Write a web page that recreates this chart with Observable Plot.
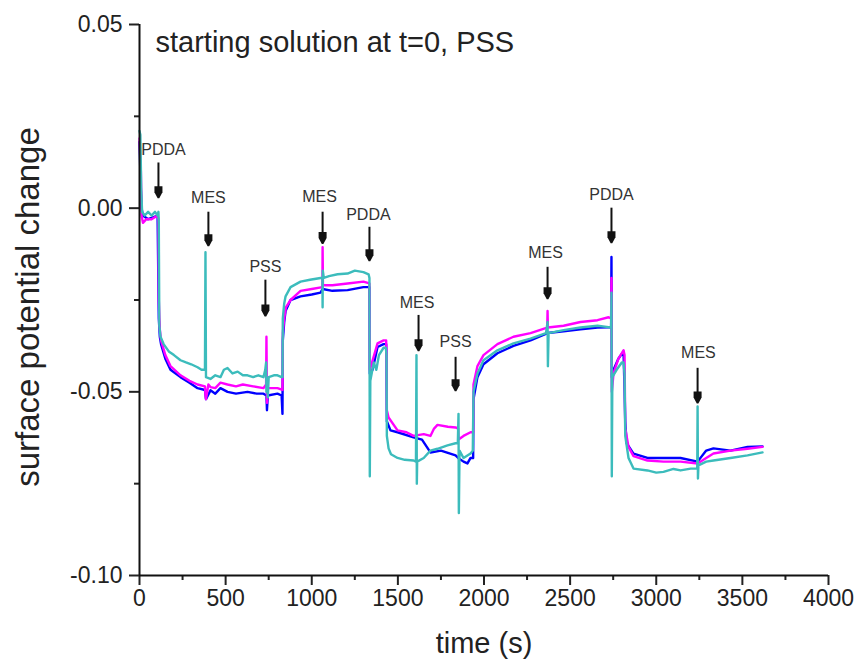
<!DOCTYPE html>
<html>
<head>
<meta charset="utf-8">
<script src="https://cdn.jsdelivr.net/npm/d3@7"></script>
<script src="https://cdn.jsdelivr.net/npm/@observablehq/plot@0.6"></script>
<style>
  body { margin: 0; background: white; }
</style>
</head>
<body>
<div id="chart"></div>
<script>
// ---- data: [time (s), surface potential change] ----
const blue = [
  [0, 0.018], [8, 0.005], [12, 0.000], [20, -0.002], [50, -0.003], [105, -0.002],
  [112, -0.030], [118, -0.035], [125, -0.037], [150, -0.041], [180, -0.044], [238, -0.046],
  [290, -0.0475], [337, -0.049], [380, -0.0495], [386, -0.052], [412, -0.0496], [440, -0.0505],
  [470, -0.049], [511, -0.050], [560, -0.0505], [627, -0.050], [680, -0.0505], [720, -0.0505],
  [737, -0.051], [740, -0.055], [745, -0.051], [801, -0.0505], [825, -0.051], [830, -0.056],
  [832, -0.036], [840, -0.031], [848, -0.028], [877, -0.025], [935, -0.024], [1000, -0.0235],
  [1051, -0.023], [1063, -0.022], [1120, -0.0225], [1208, -0.0223], [1300, -0.0215], [1335, -0.0215],
  [1337, -0.045], [1353, -0.044], [1382, -0.0378], [1417, -0.037], [1432, -0.037], [1434, -0.040],
  [1436, -0.058], [1457, -0.0605], [1498, -0.061], [1591, -0.0624], [1640, -0.063], [1689, -0.0665],
  [1750, -0.066], [1835, -0.0673], [1850, -0.068], [1881, -0.069], [1904, -0.0695], [1922, -0.068],
  [1937, -0.068], [1939, -0.052], [1962, -0.046], [1997, -0.0425], [2078, -0.0395], [2171, -0.0375],
  [2270, -0.036], [2369, -0.034], [2462, -0.0335], [2560, -0.033], [2659, -0.0325], [2723, -0.0324],
  [2738, -0.0324], [2740, -0.0133], [2742, -0.046], [2752, -0.044], [2780, -0.041], [2810, -0.039],
  [2816, -0.0496], [2820, -0.058], [2828, -0.064], [2868, -0.0668], [2949, -0.068], [3042, -0.068],
  [3141, -0.068], [3240, -0.069], [3290, -0.066], [3332, -0.0654], [3431, -0.066], [3530, -0.065],
  [3617, -0.0649]
];

const magenta = [
  [0, 0.019], [8, 0.010], [12, -0.002], [20, -0.004], [40, -0.003], [70, -0.003], [105, -0.002],
  [110, -0.003], [112, -0.025], [118, -0.033], [125, -0.036], [150, -0.040], [180, -0.043],
  [238, -0.0455], [290, -0.047], [337, -0.048], [380, -0.0485], [383, -0.051], [386, -0.052],
  [400, -0.048], [412, -0.0487], [440, -0.049], [470, -0.0475], [511, -0.048], [560, -0.0485],
  [600, -0.048], [660, -0.0485], [720, -0.049], [735, -0.048], [737, -0.035], [740, -0.053],
  [745, -0.049], [801, -0.049], [830, -0.0495], [832, -0.034], [840, -0.030], [850, -0.027],
  [877, -0.025], [935, -0.0225], [1000, -0.022], [1062, -0.0215], [1063, -0.0106], [1065, -0.021],
  [1120, -0.021], [1208, -0.0205], [1300, -0.020], [1335, -0.0205], [1337, -0.044], [1350, -0.042],
  [1382, -0.0368], [1417, -0.036], [1432, -0.036], [1434, -0.040], [1436, -0.055], [1446, -0.057],
  [1498, -0.0605], [1550, -0.061], [1591, -0.062], [1650, -0.0615], [1689, -0.062], [1710, -0.060],
  [1730, -0.059], [1790, -0.0595], [1835, -0.0597], [1850, -0.060], [1852, -0.063], [1881, -0.062],
  [1922, -0.061], [1937, -0.061], [1939, -0.048], [1962, -0.043], [1997, -0.040], [2078, -0.037],
  [2171, -0.035], [2270, -0.034], [2367, -0.0325], [2369, -0.028], [2371, -0.0325], [2462, -0.032],
  [2560, -0.031], [2659, -0.0305], [2723, -0.0297], [2738, -0.030], [2740, -0.019], [2742, -0.050],
  [2752, -0.045], [2780, -0.041], [2810, -0.0387], [2816, -0.040], [2820, -0.060], [2839, -0.065],
  [2868, -0.0675], [2949, -0.0687], [3042, -0.069], [3141, -0.069], [3240, -0.0695], [3290, -0.068],
  [3332, -0.0668], [3431, -0.066], [3530, -0.0655], [3617, -0.065]
];

const cyan = [
  [0, 0.021], [5, 0.020], [10, 0.005], [15, -0.001], [30, -0.002], [50, -0.001], [70, -0.002],
  [90, -0.001], [105, -0.002], [110, -0.001], [112, -0.004], [115, -0.032], [122, -0.035],
  [140, -0.037], [170, -0.039], [200, -0.040], [238, -0.0414], [270, -0.042], [300, -0.0425],
  [337, -0.0433], [360, -0.044], [380, -0.044], [383, -0.012], [386, -0.046], [412, -0.0465],
  [440, -0.0455], [470, -0.046], [490, -0.044], [511, -0.0435], [540, -0.045], [570, -0.0445],
  [600, -0.0455], [627, -0.0455], [660, -0.046], [690, -0.0455], [720, -0.046], [730, -0.044],
  [735, -0.042], [737, -0.050], [740, -0.047], [745, -0.0515], [750, -0.046], [780, -0.0455],
  [801, -0.0455], [825, -0.046], [830, -0.046], [832, -0.030], [840, -0.026], [848, -0.024],
  [877, -0.0215], [935, -0.020], [990, -0.0195], [1051, -0.019], [1062, -0.019], [1063, -0.027],
  [1064, -0.017], [1070, -0.019], [1100, -0.0185], [1150, -0.018], [1208, -0.0178], [1250, -0.017],
  [1300, -0.0174], [1330, -0.018], [1335, -0.019], [1337, -0.073], [1340, -0.047], [1360, -0.042],
  [1375, -0.044], [1390, -0.040], [1417, -0.038], [1430, -0.038], [1434, -0.040], [1436, -0.062],
  [1446, -0.0654], [1460, -0.067], [1498, -0.068], [1540, -0.0685], [1591, -0.0687], [1605, -0.069],
  [1608, -0.040], [1610, -0.075], [1612, -0.069], [1650, -0.068], [1689, -0.066], [1730, -0.0655],
  [1788, -0.0646], [1835, -0.064], [1848, -0.064], [1852, -0.056], [1854, -0.083], [1858, -0.066],
  [1881, -0.068], [1922, -0.0668], [1935, -0.066], [1939, -0.050], [1962, -0.045], [1997, -0.0414],
  [2078, -0.0387], [2171, -0.0368], [2270, -0.0355], [2360, -0.034], [2369, -0.031], [2371, -0.043],
  [2375, -0.034], [2462, -0.0332], [2560, -0.0325], [2659, -0.032], [2723, -0.0324], [2738, -0.0324],
  [2740, -0.023], [2742, -0.073], [2745, -0.046], [2770, -0.044], [2800, -0.042], [2810, -0.042],
  [2816, -0.045], [2820, -0.062], [2839, -0.068], [2868, -0.0709], [2949, -0.0714], [3000, -0.072],
  [3042, -0.0718], [3100, -0.071], [3141, -0.0714], [3200, -0.0709], [3238, -0.0709], [3240, -0.054],
  [3242, -0.0736], [3245, -0.070], [3290, -0.069], [3332, -0.0687], [3431, -0.068], [3530, -0.0673],
  [3617, -0.0665]
];

// ---- annotations ----
const annLabels = ["PDDA", "MES", "PSS", "MES", "PDDA", "MES", "PSS", "MES", "PDDA", "MES"];
const annLabelT = [139, 400, 731, 1045, 1329, 1611, 1835, 2357, 2740, 3245];
const annLabelV = [0.0158, 0.0027, -0.0161, 0.0030, -0.0019, -0.0259, -0.0365, -0.0123, 0.0035, -0.0395];
const arrowT = [110, 400, 731, 1063, 1335, 1620, 1835, 2369, 2740, 3240];
const arrowTop = [0.0123, -0.0011, -0.0196, -0.0011, -0.0052, -0.0292, -0.0406, -0.0161, 0.0000, -0.0436];
const arrowBottom = [0.0030, -0.0101, -0.0292, -0.0095, -0.0142, -0.0387, -0.0496, -0.0245, -0.0093, -0.0529];

const xMajor = [0, 500, 1000, 1500, 2000, 2500, 3000, 3500, 4000];
const xMinor = [250, 750, 1250, 1750, 2250, 2750, 3250, 3750];
const yMajor = [-0.10, -0.05, 0.00, 0.05];
const yMinor = [-0.075, -0.025, 0.025];

const title = "starting solution at t=0, PSS";
const xLabel = "time (s)";
const yLabel = "surface potential change";

const annotations = annLabels.map((label, i) => ({
  label, lt: annLabelT[i], lv: annLabelV[i], t: arrowT[i], top: arrowTop[i], bottom: arrowBottom[i]
}));

const arrowHead = {
  draw(context) {
    context.moveTo(-4, -11);
    context.lineTo(4, -11);
    context.lineTo(4, -5);
    context.lineTo(0.8, 1);
    context.lineTo(-0.8, 1);
    context.lineTo(-4, -5);
    context.closePath();
  }
};

const font = "'Liberation Sans', Arial, Helvetica, sans-serif";
const lineOpts = {x: d => d[0], y: d => d[1], strokeWidth: 2.4, curve: "linear"};

const chart = Plot.plot({
  width: 861,
  height: 664,
  marginLeft: 139,
  marginRight: 33,
  marginTop: 24,
  marginBottom: 89,
  style: {fontFamily: font, fontSize: "23px", color: "#222", background: "white"},
  x: {domain: [0, 4000]},
  y: {domain: [-0.10, 0.05]},
  marks: [
    Plot.line(blue, {...lineOpts, stroke: "#0000ff"}),
    Plot.line(magenta, {...lineOpts, stroke: "#ff00ff"}),
    Plot.line(cyan, {...lineOpts, stroke: "#3cbcbc"}),
    Plot.ruleX(annotations, {x: "t", y1: "top", y2: "bottom", stroke: "#111", strokeWidth: 2}),
    Plot.dot(annotations, {x: "t", y: "bottom", symbol: arrowHead, fill: "#111", stroke: "none"}),
    Plot.text(annotations, {x: "lt", y: "lv", text: "label", fontSize: 16, fill: "#333", fontFamily: font}),
    Plot.axisX({ticks: xMajor, tickSize: 10, tickPadding: 4, strokeWidth: 2, tickFormat: d => String(d), label: null, fontSize: 23, fill: "#222"}),
    Plot.axisX({ticks: xMinor, tickSize: 5, strokeWidth: 2, tickFormat: () => "", label: null}),
    Plot.axisY({ticks: yMajor, tickSize: 10, tickPadding: 7, strokeWidth: 2, tickFormat: d => d.toFixed(2), label: null, fontSize: 23, fill: "#222"}),
    Plot.axisY({ticks: yMinor, tickSize: 5, strokeWidth: 2, tickFormat: () => "", label: null}),
    Plot.ruleX([0], {stroke: "#111", strokeWidth: 2}),
    Plot.ruleY([-0.10], {stroke: "#111", strokeWidth: 2}),
    Plot.text([title], {frameAnchor: "top-left", dx: 16, dy: 18, textAnchor: "start", lineAnchor: "middle", fontSize: 29, fill: "#222", fontFamily: font}),
    Plot.text([xLabel], {frameAnchor: "bottom", dy: 68, lineAnchor: "middle", fontSize: 29, fill: "#222", fontFamily: font}),
    Plot.text([yLabel], {frameAnchor: "left", dx: -111, dy: 7, rotate: -90, textAnchor: "middle", lineAnchor: "middle", fontSize: 33, fill: "#222", fontFamily: font})
  ]
});

document.getElementById("chart").appendChild(chart);
</script>
</body>
</html>
